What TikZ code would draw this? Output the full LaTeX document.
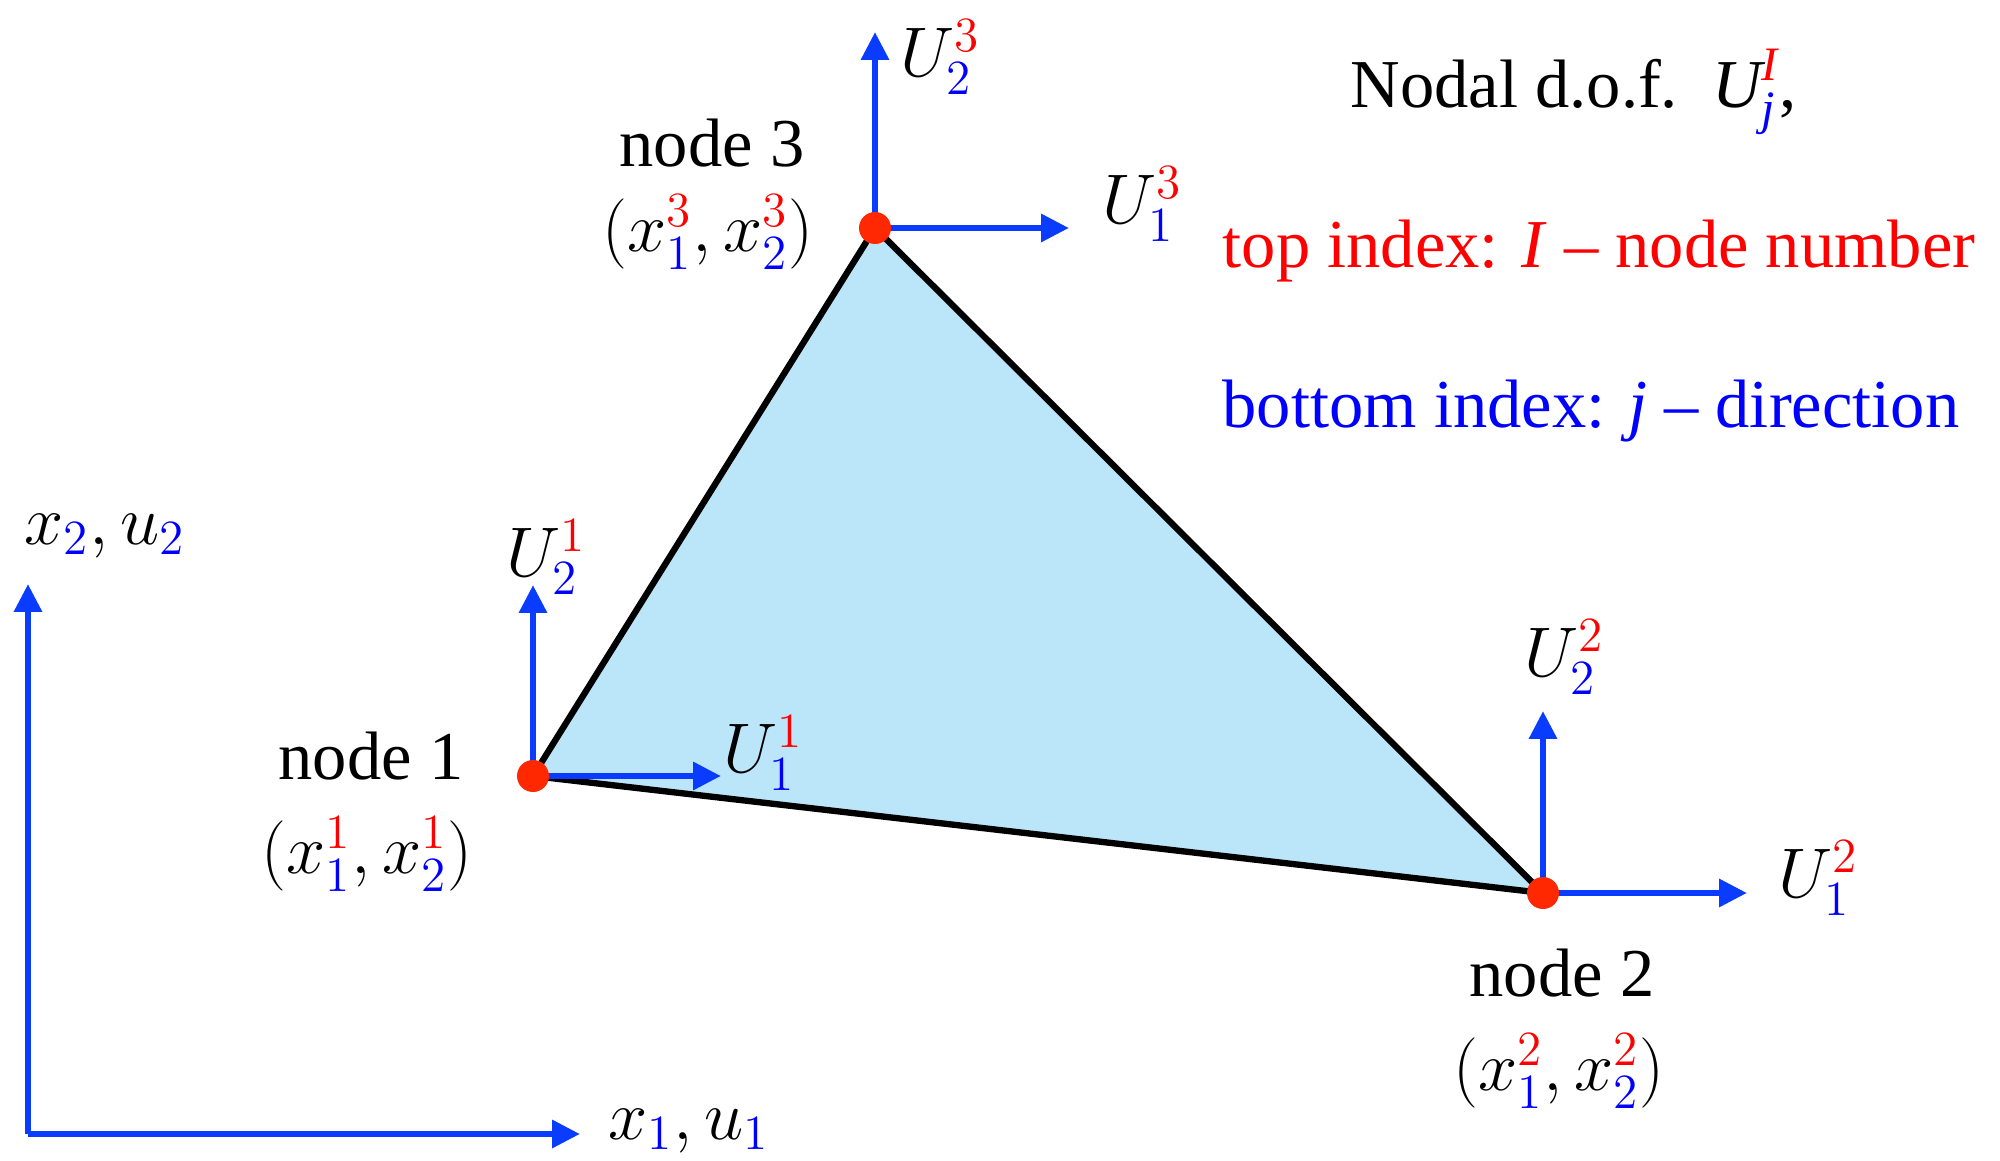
\documentclass[tikz,border=0pt]{standalone}
\usepackage{fix-cm}
\usepackage{amsmath}
\usepackage[no-math]{fontspec}
\setmainfont{Liberation Serif}
\usepackage{tikz}
\usetikzlibrary{arrows.meta,positioning}
\definecolor{ab}{RGB}{10,60,255}
\definecolor{lb}{RGB}{187,230,250}
\definecolor{dotred}{RGB}{255,40,0}
\newcommand{\tnum}[1]{{\color{red}#1}}
\newcommand{\bdir}[1]{{\color{blue}#1}}
\newcommand{\dof}[2]{U^{\tnum{#1}}_{\bdir{#2}}}

\begin{document}
\begin{tikzpicture}[
  font=\fontsize{19.5}{23}\selectfont,
  dofarrow/.style={-{Triangle[length=0.28cm, width=0.27cm]}, line width=1.8pt, color=ab},
  edge/.style={line width=1.8pt, draw=black},
  nodedot/.style={circle, fill=dotred, inner sep=0pt, minimum size=0.32cm},
  lbl/.style={inner sep=0pt},
  mlbl/.style={inner sep=0pt, font=\fontsize{20}{24}\selectfont}
]
\useasboundingbox (0,0) rectangle (20,11.6);
\coordinate (n1) at (5.33,3.84);
\coordinate (n2) at (15.43,2.67);
\coordinate (n3) at (8.75,9.32);
% element
\filldraw[edge, fill=lb] (n1) -- (n2) -- (n3) -- cycle;
% global axes
\coordinate (O) at (0.28,0.26);
\coordinate (X) at (5.80,0.26);
\coordinate (Y) at (0.28,5.76);
\draw[dofarrow] (O) -- (X);
\draw[dofarrow] (O) -- (Y);
\node[mlbl] (xlab) at (6.89,0.29) {$x_{\bdir{1}}, u_{\bdir{1}}$};
\node[mlbl] (ylab) at (1.05,6.24) {$x_{\bdir{2}}, u_{\bdir{2}}$};
% nodal d.o.f. arrows
\coordinate (n1x) at (7.21,3.84);
\coordinate (n1y) at (5.33,5.75);
\coordinate (n2x) at (17.47,2.67);
\coordinate (n2y) at (15.43,4.49);
\coordinate (n3x) at (10.69,9.32);
\coordinate (n3y) at (8.75,11.28);
\draw[dofarrow] (n1) -- (n1x);
\draw[dofarrow] (n1) -- (n1y);
\draw[dofarrow] (n2) -- (n2x);
\draw[dofarrow] (n2) -- (n2y);
\draw[dofarrow] (n3) -- (n3x);
\draw[dofarrow] (n3) -- (n3y);
\node[nodedot] (d1) at (n1) {};
\node[nodedot] (d2) at (n2) {};
\node[nodedot] (d3) at (n3) {};
% d.o.f. labels
\node[mlbl] (u11) at (7.63,4.07) {$\dof{1}{1}$};
\node[mlbl] (u12) at (5.46,6.03) {$\dof{1}{2}$};
\node[mlbl] (u21) at (18.18,2.82) {$\dof{2}{1}$};
\node[mlbl] (u22) at (15.64,5.03) {$\dof{2}{2}$};
\node[mlbl] (u31) at (11.42,9.56) {$\dof{3}{1}$};
\node[mlbl] (u32) at (9.40,11.03) {$\dof{3}{2}$};
% node names and coordinates
\node[lbl] (name1) at (3.71,4.04) {node 1};
\node[mlbl] (xy1) at (3.67,3.06) {$(x^{\tnum{1}}_{\bdir{1}}, x^{\tnum{1}}_{\bdir{2}})$};
\node[lbl] (name2) at (15.62,1.87) {node 2};
\node[mlbl] (xy2) at (15.59,0.89) {$(x^{\tnum{2}}_{\bdir{1}}, x^{\tnum{2}}_{\bdir{2}})$};
\node[lbl] (name3) at (7.12,10.17) {node 3};
\node[mlbl] (xy3) at (7.08,9.28) {$(x^{\tnum{3}}_{\bdir{1}}, x^{\tnum{3}}_{\bdir{2}})$};
% legend
\node[lbl, anchor=west] (dof) at (13.50,10.68) {Nodal d.o.f.~~$\textit{U}^{\textit{\tnum{I}}}_{\textit{\bdir{j}}}$,};
\node[lbl, anchor=west, text=red] (topidx) at (12.22,9.09) {top index: \textit{I} – node number};
\node[lbl, anchor=west, text=blue] (botidx) at (12.22,7.49) {bottom index: \textit{j} – direction};
\end{tikzpicture}
\end{document}
